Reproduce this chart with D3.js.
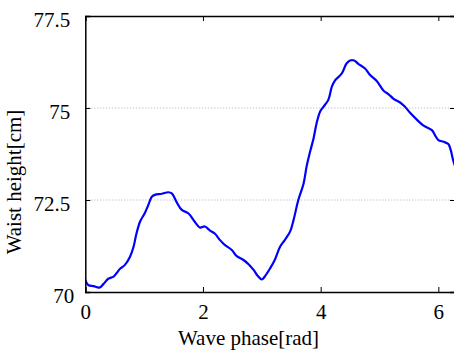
<!DOCTYPE html>
<html>
<head>
<meta charset="utf-8">
<script src="https://cdn.jsdelivr.net/npm/d3@7"></script>
<style>
  body { margin: 0; background: #fff; }
  svg { display: block; }
</style>
</head>
<body>
<svg id="chart" width="454" height="351"></svg>
<script>
// wave phase (rad) and waist height (cm)
const phase = [0, 0.05, 0.14, 0.24, 0.31, 0.39, 0.48, 0.53, 0.59, 0.67, 0.76, 0.82, 0.87, 0.93,
  1.01, 1.07, 1.13, 1.18, 1.30, 1.41, 1.47, 1.55, 1.64, 1.75, 1.86, 1.95, 2.03, 2.12, 2.20,
  2.29, 2.37, 2.49, 2.57, 2.69, 2.77, 2.86, 2.94, 3.00, 3.05, 3.14, 3.22, 3.31, 3.39, 3.48,
  3.54, 3.62, 3.71, 3.76, 3.82, 3.88, 3.93, 3.99, 4.05, 4.13, 4.19, 4.24, 4.36, 4.44, 4.50,
  4.57, 4.64, 4.75, 4.84, 4.95, 5.07, 5.15, 5.24, 5.35, 5.43, 5.52, 5.63, 5.75, 5.89, 5.94,
  6.00, 6.09, 6.17, 6.21, 6.25, 6.30];
const waist = [70.33, 70.19, 70.16, 70.12, 70.22, 70.36, 70.42, 70.51, 70.63, 70.73, 70.96,
  71.23, 71.59, 71.91, 72.14, 72.36, 72.59, 72.64, 72.67, 72.71, 72.68, 72.45, 72.23, 72.14,
  71.91, 71.75, 71.78, 71.67, 71.59, 71.41, 71.28, 71.14, 70.98, 70.87, 70.76, 70.60, 70.42,
  70.34, 70.42, 70.64, 70.87, 71.23, 71.41, 71.64, 71.96, 72.50, 72.95, 73.40, 73.81, 74.18,
  74.58, 74.90, 75.04, 75.22, 75.58, 75.74, 75.94, 76.21, 76.29, 76.29, 76.20, 76.08, 75.90,
  75.74, 75.47, 75.38, 75.25, 75.15, 75.04, 74.87, 74.69, 74.52, 74.40, 74.27, 74.13, 74.08,
  74.02, 73.86, 73.59, 73.35];
const xTicks = [0, 2, 4, 6];
const yTicks = [70, 72.5, 75, 77.5];
const gridTicks = [72.5, 75];

const serif = "'Liberation Serif', 'Times New Roman', serif";
const svg = d3.select("#chart");
const plot = { left: 85.3, right: 455, top: 16, bottom: 292 };

const x = d3.scaleLinear().domain([0, 2 * Math.PI]).range([plot.left, plot.right]);
const y = d3.scaleLinear().domain([70, 77.5]).range([plot.bottom, plot.top]);

// dotted grid
svg.append("g")
  .selectAll("line")
  .data(gridTicks)
  .enter().append("line")
  .attr("x1", plot.left).attr("x2", plot.right)
  .attr("y1", d => y(d)).attr("y2", d => y(d))
  .attr("stroke", "#b0b0b0")
  .attr("stroke-width", 1)
  .attr("stroke-dasharray", "1,2");

svg.append("clipPath").attr("id", "clip")
  .append("rect")
  .attr("x", plot.left).attr("y", plot.top)
  .attr("width", plot.right - plot.left).attr("height", plot.bottom - plot.top);

const data = phase.map((p, i) => ({ p: p, h: waist[i] }));
svg.append("path")
  .datum(data)
  .attr("clip-path", "url(#clip)")
  .attr("fill", "none")
  .attr("stroke", "#0000ff")
  .attr("stroke-width", 2.2)
  .attr("stroke-linejoin", "round")
  .attr("d", d3.line().x(d => x(d.p)).y(d => y(d.h)).curve(d3.curveCatmullRom));

const fmt = d => String(d);

// bottom axis, ticks inward
const gx = svg.append("g")
  .attr("transform", "translate(0," + plot.bottom + ")")
  .call(d3.axisBottom(x).tickValues(xTicks).tickFormat(fmt).tickSize(-5).tickPadding(12));

// left axis
const gy = svg.append("g")
  .attr("transform", "translate(" + plot.left + ",0)")
  .call(d3.axisLeft(y).tickValues(yTicks).tickFormat(fmt).tickSize(-5).tickPadding(15));
gy.selectAll("text").attr("dy", "0.5em");
gy.selectAll(".tick").filter(d => d === 70).select("text").attr("x", -11);

[gx, gy].forEach(g => g.attr("font-family", null).attr("font-size", null)
  .selectAll("text").style("font-family", serif).style("font-size", "21px").attr("fill", "#000"));

// top and right (box) axes
svg.append("g")
  .attr("transform", "translate(0," + plot.top + ")")
  .call(d3.axisTop(x).tickValues(xTicks).tickFormat("").tickSize(-5));
svg.append("g")
  .attr("transform", "translate(" + plot.right + ",0)")
  .call(d3.axisRight(y).tickValues(yTicks).tickFormat("").tickSize(-5));

svg.selectAll(".domain").attr("stroke", "#000").attr("stroke-width", 1.5);
svg.selectAll(".tick line").attr("stroke", "#000");

// axis titles
svg.append("text")
  .attr("x", (172 + 325) / 2).attr("y", 345)
  .attr("text-anchor", "middle")
  .style("font-family", serif)
  .style("font-size", "21px")
  .text("Wave phase[rad]");

svg.append("text")
  .attr("transform", "translate(21,182) rotate(-90)")
  .attr("text-anchor", "middle")
  .style("font-family", serif)
  .style("font-size", "21px")
  .text("Waist height[cm]");
</script>
</body>
</html>
